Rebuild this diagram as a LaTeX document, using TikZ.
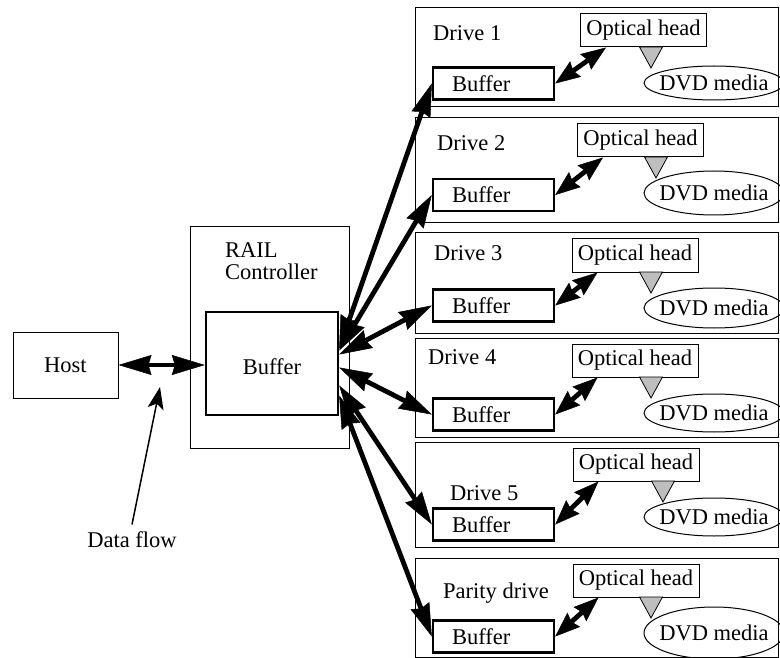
\documentclass[tikz,border=0pt]{standalone}
\usepackage{fontspec}
\setmainfont{Liberation Serif}
\usetikzlibrary{arrows.meta,calc,positioning}
\definecolor{HeadGray}{HTML}{BEBEBE}

\tikzset{
  box/.style={draw,line width=1pt,inner sep=0pt},
  bufbox/.style={draw,line width=2.4pt,inner ysep=0pt},
  fatarrow/.style={line width=4.8pt,
    >={Stealth[length=33pt,width=20pt,inset=3pt,line width=.5pt]},<->},
  midarrow/.style={line width=4.8pt,
    >={Stealth[length=25pt,width=19pt,inset=3pt,line width=.5pt]},<->},
  flowarrow/.style={line width=1.5pt,
    -{Stealth[length=22pt,width=16pt,inset=5pt]}}
}

\begin{document}
\begin{tikzpicture}[x=1pt,y=-1pt,font=\fontsize{22.5}{25}\selectfont]
        \useasboundingbox (0,0) rectangle (780,658);

        % host and controller
        \node[box,minimum width=105,minimum height=66] (host) at (65.5,365) {Host};
        \node[box,minimum width=159,minimum height=221] (rail) at (269.5,337.5) {};
        \node[anchor=west,inner sep=0pt,align=left,font=\fontsize{22.5}{22}\selectfont]
          (raillbl) at (225,261) {RAIL\\Controller};
        \node[bufbox,inner xsep=0pt,minimum width=132,minimum height=103] (cbuf) at (272,363.5) {};
        \node (cbuflbl) at (272,367) {Buffer};
        \draw[fatarrow] (host.east) -- (host.east -| cbuf.west);

        \node (flowlbl) at (132,540) {Data flow};
        \coordinate (flowtip) at (160,387);
        \draw[flowarrow] ([yshift=4pt]flowlbl.north) -- (flowtip);

        % drives: box top/bottom, label, buffer y, head x, triangle x, disc radius, arrow start
        \foreach \n/\top/\bot/\lx/\ly/\by/\hx/\tx/\ry/\cy/\name in
          {1/8/107/433/33/83.5/643.5/651/17pt/15pt/Drive 1,
           2/118/223/437/143/195/640.5/656/22pt/13pt/Drive 2,
           3/233/333/434/253/305.5/635/651/20pt/9pt/Drive 3,
           4/338/437/428/357/414.5/635/651/19pt/-4pt/Drive 4,
           5/442/547/450/493/524.5/636/663/19pt/-22pt/Drive 5,
           6/558/657/443/593/636.5/636/651/26pt/-32pt/Parity drive}
        {
          \draw[line width=1pt] (415,\top) rectangle (778,\bot);
          \node[anchor=west,inner sep=0pt] (lbl\n) at (\lx,\ly) {\name};
          \node[bufbox,text width=83pt,align=left,inner xsep=19pt,minimum height=32]
            (buf\n) at (493.5,\by) {Buffer};
          \node[box,minimum width=126,minimum height=33] (head\n) at (\hx,\top+22.5) {Optical head};
          \node[inner sep=0pt] (dvd\n) at (714,\top+75) {DVD media};
          \draw[line width=1pt] (dvd\n) ellipse [x radius=70pt,y radius=\ry];
          \filldraw[fill=HeadGray,line width=.8pt]
            (\tx-11.5,\top+39) -- (\tx+11.5,\top+39) -- (\tx,\top+60) -- cycle;
          \draw[midarrow] (buf\n.east) -- ([xshift=26pt]head\n.south west);
          \draw[fatarrow] ([yshift=\cy]cbuf.east) -- (buf\n.west);
        }
      \end{tikzpicture}
\end{document}
